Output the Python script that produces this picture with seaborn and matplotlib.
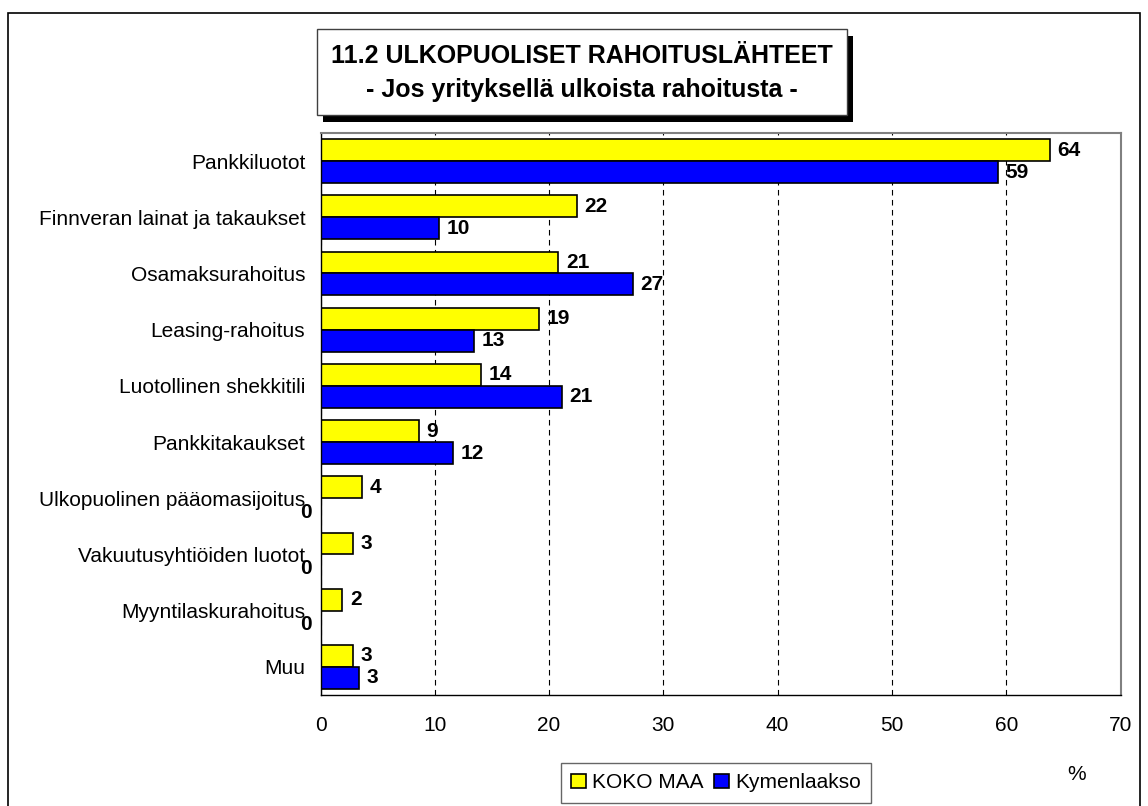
import pandas as pd
import matplotlib
matplotlib.use("Agg")
import matplotlib.pyplot as plt
from matplotlib.patches import Rectangle, Patch
import seaborn as sns

#=============================================================================
# Data (percent)
#=============================================================================
categories = [
    "Pankkiluotot",
    "Finnveran lainat ja takaukset",
    "Osamaksurahoitus",
    "Leasing-rahoitus",
    "Luotollinen shekkitili",
    "Pankkitakaukset",
    "Ulkopuolinen pääomasijoitus",
    "Vakuutusyhtiöiden luotot",
    "Myyntilaskurahoitus",
    "Muu",
]
koko_maa = [63.8, 22.4, 20.8, 19.1, 14.0, 8.6, 3.6, 2.8, 1.9, 2.8]
kymenlaakso = [59.3, 10.4, 27.3, 13.4, 21.1, 11.6, 0, 0, 0, 3.4]
series_names = ["KOKO MAA", "Kymenlaakso"]
series_colors = ["#FFFF00", "#0000FF"]
x_ticks = [0, 10, 20, 30, 40, 50, 60, 70]

title_line1 = "11.2 ULKOPUOLISET RAHOITUSLÄHTEET"
title_line2 = "- Jos yrityksellä ulkoista rahoitusta -"

#=============================================================================
# Long format table for seaborn
#=============================================================================
df = pd.concat([
    pd.DataFrame({"category": categories, "value": koko_maa, "series": series_names[0]}),
    pd.DataFrame({"category": categories, "value": kymenlaakso, "series": series_names[1]}),
], ignore_index=True)

sns.set_style("white")
plt.rcParams["font.family"] = ["Liberation Sans", "DejaVu Sans"]
plt.rcParams["text.color"] = "black"
plt.rcParams["xtick.color"] = "black"
plt.rcParams["ytick.color"] = "black"
plt.rcParams["axes.labelcolor"] = "black"

W, H = 1148, 806
fig = plt.figure(figsize=(W / 100, H / 100), dpi=100)
fig.patch.set_facecolor("white")

# plot area in pixel terms
left, right, top, bottom = 320.5, 1120.5, 133, 695
ax = fig.add_axes([left / W, 1 - bottom / H, (right - left) / W, (bottom - top) / H])

sns.barplot(
    data=df,
    x="value",
    y="category",
    hue="series",
    hue_order=series_names,
    palette=series_colors,
    saturation=1,
    orient="h",
    width=0.78,
    edgecolor="black",
    linewidth=1.2,
    errorbar=None,
    legend=False,
    ax=ax,
)

ax.set_xlim(0, 70)
ax.set_xticks(x_ticks)
ax.set_xlabel("")
ax.set_ylabel("")
ax.tick_params(axis="x", labelsize=15, length=5, width=1, pad=10, direction="out",
               color="black", labelcolor="black")
ax.tick_params(axis="y", labelsize=15, length=0, pad=11, labelcolor="black")

ax.grid(axis="x", color="black", linestyle=(0, (5, 4)), linewidth=0.8)
ax.grid(axis="y", visible=False)
ax.set_axisbelow(True)

for side in ["left", "bottom"]:
    ax.spines[side].set_color("black")
    ax.spines[side].set_linewidth(1.0)
for side in ["top", "right"]:
    ax.spines[side].set_color("#808080")
    ax.spines[side].set_linewidth(1.5)

# value labels (zeros sit left of the axis, like in the original)
for container, vals in zip(ax.containers, [koko_maa, kymenlaakso]):
    for bar, v in zip(container, vals):
        yc = bar.get_y() + bar.get_height() / 2
        if v == 0:
            ax.annotate("0", (0, yc), xytext=(-6, -2), textcoords="offset points",
                        ha="right", va="center", fontsize=15, fontweight="bold",
                        color="black", annotation_clip=False)
        else:
            ax.annotate(f"{v:.0f}", (bar.get_width(), yc), xytext=(5.5, 0),
                        textcoords="offset points", ha="left", va="center",
                        fontsize=15, fontweight="bold", color="black")

#=============================================================================
# Title box with shadow, outer frame, legend, % unit
#=============================================================================
def px_rect(x0, y0, x1, y1, **kw):
    return Rectangle((x0 / W, 1 - y1 / H), (x1 - x0) / W, (y1 - y0) / H,
                     transform=fig.transFigure, **kw)

fig.patches.append(px_rect(8, 13, 1140, 820, facecolor="none", edgecolor="black", linewidth=1.2))
fig.patches.append(px_rect(323, 36, 853, 122, facecolor="black", edgecolor="none"))
fig.patches.append(px_rect(317, 29, 847, 115, facecolor="white", edgecolor="#404040", linewidth=1.0))

cx = (317 + 847) / 2 / W
fig.text(cx, 1 - 63 / H, title_line1, ha="center", va="baseline", fontsize=18,
         fontweight="bold", color="black")
fig.text(cx, 1 - 97 / H, title_line2, ha="center", va="baseline", fontsize=18,
         fontweight="bold", color="black")

handles = [Patch(facecolor=c, edgecolor="black", linewidth=1.2) for c in series_colors]
leg = fig.legend(
    handles, series_names,
    loc="upper left",
    bbox_to_anchor=(561 / W, 1 - 763 / H),
    ncol=2,
    fontsize=15,
    frameon=True,
    fancybox=False,
    shadow=False,
    borderpad=0.5,
    handlelength=0.7,
    handleheight=0.7,
    handletextpad=0.3,
    columnspacing=0.5,
    borderaxespad=0,
)
leg.get_frame().set_edgecolor("#404040")
leg.get_frame().set_linewidth(1.0)
for t in leg.get_texts():
    t.set_color("black")

fig.text(1077 / W, 1 - 775 / H, "%", ha="center", va="center", fontsize=15, color="black")

fig.savefig("out.png", dpi=100)
